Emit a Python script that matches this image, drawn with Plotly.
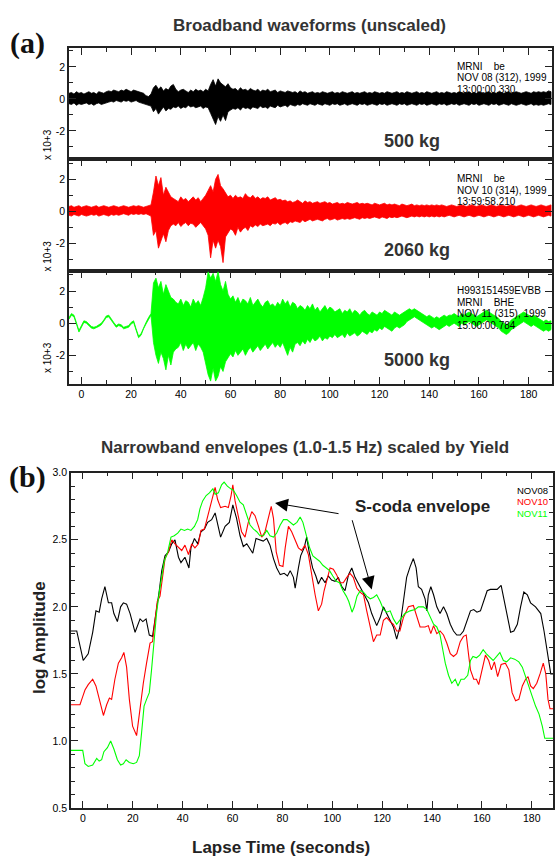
import plotly.graph_objects as go

# ---------------- DATA ----------------
# (a) broadband waveforms: per-second upper / lower extent of each trace (units of 10^3)
T_WAVE = list(range(-5, 190))

NOV08_UP = [0.35,0.40,0.30,0.45,0.35,0.40,0.30,0.40,0.45,0.35,
            0.40,0.30,0.45,0.40,0.35,0.45,0.50,0.45,0.55,0.50,
            0.45,0.55,0.50,0.60,0.50,0.45,0.55,0.50,0.45,0.40,
            0.35,0.20,0.15,0.30,0.70,0.85,0.60,0.75,0.50,0.65,
            0.55,0.80,0.90,0.60,0.45,0.55,0.60,0.50,0.40,0.55,
            0.45,0.60,0.50,0.55,0.45,0.60,0.50,0.90,1.20,0.80,
            1.25,1.00,0.90,0.75,0.95,0.70,0.60,0.65,0.50,0.70,
            0.55,0.60,0.50,0.65,0.55,0.50,0.60,0.45,0.55,0.50,
            0.60,0.45,0.50,0.55,0.40,0.50,0.45,0.40,0.50,0.45,
            0.40,0.45,0.35,0.50,0.40,0.45,0.35,0.40,0.45,0.35,
            0.40,0.35,0.45,0.40,0.35,0.40,0.45,0.35,0.40,0.35,
            0.45,0.40,0.35,0.40,0.45,0.35,0.40,0.35,0.40,0.45,
            0.35,0.40,0.35,0.45,0.40,0.35,0.40,0.35,0.45,0.40,
            0.35,0.40,0.45,0.35,0.40,0.35,0.45,0.40,0.35,0.40,
            0.45,0.35,0.40,0.35,0.45,0.40,0.35,0.40,0.45,0.35,
            0.40,0.35,0.45,0.40,0.35,0.40,0.35,0.45,0.40,0.35,
            0.40,0.45,0.35,0.40,0.35,0.45,0.40,0.35,0.40,0.45,
            0.35,0.40,0.35,0.45,0.40,0.35,0.40,0.45,0.35,0.40,
            0.45,0.40,0.35,0.40,0.45,0.40,0.35,0.45,0.40,0.45,
            0.40,0.45,0.40,0.50,0.45]
NOV08_LO = [-0.30,-0.35,-0.25,-0.40,-0.30,-0.35,-0.30,-0.25,-0.35,-0.30,
            -0.40,-0.30,-0.25,-0.35,-0.30,-0.25,-0.20,-0.15,-0.20,-0.10,
            -0.15,-0.20,-0.10,-0.15,-0.10,-0.20,-0.15,-0.10,-0.20,-0.25,
            -0.30,-0.35,-0.40,-0.45,-0.80,-0.60,-0.95,-0.70,-0.50,-0.75,
            -0.60,-0.65,-0.50,-0.55,-0.45,-0.60,-0.50,-0.55,-0.40,-0.50,
            -0.45,-0.55,-0.50,-0.45,-0.60,-0.50,-0.55,-0.90,-1.20,-1.60,
            -1.10,-1.40,-1.00,-1.35,-0.80,-0.70,-0.60,-0.65,-0.55,-0.70,
            -0.50,-0.60,-0.55,-0.65,-0.50,-0.55,-0.60,-0.45,-0.55,-0.50,
            -0.60,-0.45,-0.50,-0.55,-0.40,-0.50,-0.45,-0.40,-0.50,-0.35,
            -0.40,-0.45,-0.35,-0.40,-0.30,-0.35,-0.40,-0.30,-0.35,-0.40,
            -0.30,-0.35,-0.40,-0.30,-0.35,-0.40,-0.30,-0.35,-0.30,-0.40,
            -0.35,-0.30,-0.40,-0.35,-0.30,-0.35,-0.40,-0.30,-0.35,-0.30,
            -0.40,-0.35,-0.30,-0.35,-0.40,-0.30,-0.35,-0.30,-0.40,-0.35,
            -0.30,-0.35,-0.40,-0.30,-0.35,-0.30,-0.40,-0.35,-0.30,-0.35,
            -0.40,-0.30,-0.35,-0.30,-0.40,-0.35,-0.30,-0.35,-0.40,-0.30,
            -0.35,-0.30,-0.40,-0.35,-0.30,-0.35,-0.30,-0.40,-0.35,-0.30,
            -0.35,-0.40,-0.30,-0.35,-0.30,-0.40,-0.35,-0.30,-0.35,-0.40,
            -0.30,-0.35,-0.30,-0.40,-0.35,-0.30,-0.35,-0.40,-0.30,-0.35,
            -0.40,-0.35,-0.30,-0.35,-0.40,-0.35,-0.30,-0.40,-0.35,-0.40,
            -0.35,-0.40,-0.35,-0.30,-0.35]

NOV10_UP = [0.30,0.35,0.25,0.30,0.35,0.25,0.30,0.35,0.30,0.25,
            0.30,0.35,0.25,0.30,0.35,0.30,0.25,0.30,0.35,0.30,
            0.25,0.30,0.35,0.30,0.25,0.30,0.35,0.30,0.35,0.30,
            0.25,0.30,0.35,0.40,1.20,2.20,1.60,2.10,1.00,1.50,
            1.20,0.90,0.80,0.70,0.60,0.90,0.70,0.80,0.60,0.75,
            0.90,0.70,0.85,0.60,0.80,1.00,1.30,1.60,1.20,2.00,
            2.30,1.60,1.40,1.10,0.90,1.00,0.80,1.00,0.85,0.90,
            0.80,1.10,0.90,0.85,1.00,0.80,0.90,0.75,0.85,0.80,
            0.90,0.70,0.80,0.85,0.70,0.75,0.65,0.70,0.60,0.65,
            0.55,0.60,0.70,0.60,0.50,0.65,0.55,0.60,0.50,0.55,
            0.60,0.50,0.55,0.60,0.50,0.55,0.45,0.50,0.55,0.45,
            0.50,0.45,0.55,0.50,0.45,0.50,0.55,0.45,0.50,0.45,
            0.50,0.45,0.40,0.50,0.45,0.40,0.45,0.50,0.40,0.45,
            0.40,0.45,0.40,0.35,0.45,0.40,0.35,0.40,0.45,0.35,
            0.40,0.35,0.40,0.35,0.40,0.35,0.40,0.35,0.40,0.35,
            0.40,0.35,0.30,0.35,0.40,0.35,0.30,0.35,0.40,0.35,
            0.30,0.35,0.40,0.35,0.30,0.35,0.40,0.35,0.30,0.35,
            0.40,0.35,0.30,0.35,0.40,0.35,0.30,0.35,0.40,0.35,
            0.30,0.35,0.40,0.35,0.30,0.35,0.40,0.35,0.30,0.35,
            0.40,0.35,0.30,0.35,0.40]
NOV10_LO = [-0.25,-0.30,-0.20,-0.25,-0.30,-0.20,-0.25,-0.30,-0.25,-0.20,
            -0.25,-0.20,-0.30,-0.25,-0.20,-0.25,-0.30,-0.20,-0.25,-0.20,
            -0.25,-0.20,-0.15,-0.20,-0.25,-0.15,-0.20,-0.15,-0.20,-0.15,
            -0.20,-0.15,-0.20,-0.30,-1.50,-1.20,-2.30,-1.80,-1.40,-1.90,
            -1.20,-0.90,-0.80,-0.90,-0.70,-0.95,-0.80,-0.70,-0.90,-0.75,
            -0.80,-1.00,-0.85,-0.70,-0.90,-1.10,-1.50,-2.90,-1.80,-2.30,
            -1.80,-2.20,-3.20,-1.60,-1.40,-1.10,-1.20,-1.50,-1.00,-1.30,
            -1.10,-1.00,-1.20,-0.90,-1.00,-0.85,-0.95,-0.80,-0.90,-0.85,
            -0.80,-0.90,-0.75,-0.80,-0.70,-0.85,-0.75,-0.70,-0.80,-0.65,
            -0.70,-0.60,-0.65,-0.70,-0.55,-0.65,-0.60,-0.50,-0.60,-0.55,
            -0.50,-0.55,-0.60,-0.50,-0.45,-0.55,-0.50,-0.45,-0.55,-0.50,
            -0.45,-0.50,-0.45,-0.50,-0.45,-0.40,-0.45,-0.50,-0.40,-0.45,
            -0.40,-0.45,-0.40,-0.35,-0.40,-0.45,-0.35,-0.40,-0.45,-0.35,
            -0.40,-0.35,-0.40,-0.35,-0.30,-0.35,-0.40,-0.35,-0.30,-0.35,
            -0.30,-0.35,-0.30,-0.35,-0.30,-0.35,-0.30,-0.35,-0.30,-0.35,
            -0.30,-0.35,-0.30,-0.25,-0.30,-0.35,-0.30,-0.25,-0.30,-0.35,
            -0.30,-0.25,-0.30,-0.35,-0.30,-0.25,-0.30,-0.35,-0.30,-0.25,
            -0.30,-0.35,-0.30,-0.25,-0.30,-0.35,-0.30,-0.25,-0.30,-0.35,
            -0.30,-0.25,-0.30,-0.35,-0.30,-0.25,-0.30,-0.35,-0.30,-0.25,
            -0.30,-0.35,-0.30,-0.25,-0.30]

NOV11_UP = [0.35,0.60,0.50,0.05,-0.45,-0.15,0.15,0.10,-0.05,-0.20,
            -0.25,-0.20,-0.10,0.00,0.20,0.45,0.50,0.25,0.05,-0.15,
            -0.05,-0.10,-0.25,-0.20,-0.15,0.05,0.15,-0.35,-0.80,-0.65,
            -0.25,0.05,0.35,0.60,
            2.5,2.8,2.2,2.6,1.8,2.4,2.0,1.6,1.5,1.3,
            1.2,1.5,1.1,1.4,1.3,1.0,1.5,1.2,1.4,1.1,
            1.6,2.2,3.2,2.8,3.1,2.6,3.2,2.4,2.0,2.6,
            1.8,1.5,1.7,1.3,1.6,1.2,1.5,1.4,1.2,1.6,
            1.1,1.3,1.5,1.2,1.0,1.3,1.4,1.1,1.2,1.0,
            1.3,1.1,1.5,1.2,1.4,1.0,1.3,1.2,0.9,1.1,
            1.0,0.8,1.1,0.9,1.2,0.8,1.0,0.7,0.9,1.1,
            0.8,1.0,0.9,0.7,0.8,0.9,0.6,0.8,0.7,0.9,
            0.6,0.8,0.7,0.5,0.7,0.8,0.6,0.5,0.7,0.6,
            0.5,0.7,0.6,0.8,0.7,0.6,0.5,0.7,0.6,0.5,
            0.6,0.7,0.8,0.9,0.8,0.9,0.8,0.7,0.6,0.5,
            0.4,0.5,0.4,0.3,0.4,0.3,0.4,0.5,0.4,0.5,
            0.5,0.6,0.5,0.4,0.6,0.5,0.6,0.7,0.6,0.5,
            0.4,0.5,0.6,0.7,0.8,0.7,0.6,0.5,0.4,0.3,
            0.1,0.0,-0.1,0.0,0.2,0.3,0.4,0.5,0.6,0.7,
            0.6,0.5,0.4,0.5,0.4,0.3,0.2,0.1,0.2,0.1,
            0.15]
NOV11_LO = [0.25,0.50,0.40,-0.05,-0.55,-0.25,0.05,0.00,-0.15,-0.30,
            -0.35,-0.30,-0.20,-0.10,0.10,0.35,0.40,0.15,-0.05,-0.25,
            -0.15,-0.20,-0.35,-0.30,-0.25,-0.05,0.05,-0.45,-0.90,-0.75,
            -0.35,-0.05,0.25,0.50,
            -1.2,-2.0,-2.5,-1.8,-2.2,-2.9,-2.0,-2.6,-1.8,-1.6,
            -1.5,-1.2,-1.7,-1.3,-1.6,-1.4,-1.2,-1.7,-1.3,-1.5,
            -1.8,-2.5,-3.2,-3.6,-2.8,-3.6,-3.3,-2.7,-3.0,-2.4,
            -2.2,-1.9,-2.1,-1.7,-2.0,-1.8,-1.6,-2.0,-1.7,-1.5,
            -1.8,-1.6,-1.4,-1.7,-1.5,-1.3,-1.6,-1.4,-1.2,-1.5,
            -1.3,-1.5,-1.2,-1.6,-2.0,-1.5,-1.8,-1.3,-1.2,-1.4,
            -1.1,-1.3,-1.0,-1.2,-0.9,-1.1,-1.0,-0.8,-1.1,-0.9,
            -1.0,-0.8,-0.9,-0.7,-0.9,-0.8,-0.7,-0.9,-0.6,-0.8,
            -0.7,-0.6,-0.8,-0.7,-0.5,-0.6,-0.7,-0.5,-0.6,-0.4,
            -0.5,-0.3,-0.4,-0.2,-0.3,-0.4,-0.5,-0.3,-0.2,-0.3,
            -0.2,-0.1,0.1,0.2,0.3,0.4,0.3,0.2,0.1,0.0,
            -0.1,-0.2,-0.3,-0.2,-0.3,-0.4,-0.3,-0.2,-0.1,-0.2,
            -0.1,0.0,-0.1,-0.2,0.0,-0.1,0.0,0.1,0.0,-0.1,
            -0.2,-0.1,0.0,0.1,0.2,0.1,0.0,-0.1,-0.2,-0.3,
            -0.5,-0.6,-0.7,-0.6,-0.4,-0.3,-0.2,-0.1,0.0,0.1,
            0.0,-0.1,-0.2,-0.1,-0.2,-0.3,-0.4,-0.5,-0.4,-0.5,
            -0.4]

WAVE_LABELS = ["500 kg", "2060 kg", "5000 kg"]
WAVE_HEADERS = [["MRNI\u00a0\u00a0\u00a0\u00a0be", "NOV 08 (312), 1999", "13:00:00.330"],
                ["MRNI\u00a0\u00a0\u00a0\u00a0be", "NOV 10 (314), 1999", "13:59:58.210"],
                ["H993151459EVBB", "MRNI\u00a0\u00a0\u00a0\u00a0BHE", "NOV 11 (315), 1999", "15:00:00.784"]]

# (b) narrowband envelopes, log amplitude vs lapse time (s)
ENV08_T = [-4.8,-2.5,0.1,2.1,3.9,5.2,6.5,7.5,8.8,10.2,
           11.5,12.4,13.8,15.1,16.2,17.5,18.9,20.9,22.9,24.0,
           25.3,26.6,27.9,29.3,30.6,31.6,32.9,34.3,35.6,36.9,
           38.3,39.3,40.9,42.5,43.3,44.7,46.0,47.3,48.7,50.0,
           51.6,53.0,54.0,55.2,57.0,58.7,60.1,61.6,63.0,64.3,
           65.7,66.7,68.1,69.4,71.0,72.3,73.7,75.0,76.4,77.7,
           79.1,80.7,82.0,83.1,84.4,85.1,86.4,87.3,88.7,89.7,
           90.7,92.1,93.4,94.4,95.7,97.1,98.4,99.7,101.1,102.4,
           103.8,105.1,106.5,107.8,109.1,110.5,111.8,113.2,114.5,115.8,
           117.8,119.2,120.5,121.8,123.2,124.5,125.8,127.1,128.5,129.8,
           131.2,132.5,133.6,134.5,135.8,137.2,137.9,138.5,139.5,140.6,
           141.9,143.2,144.6,145.9,147.3,148.6,149.9,151.3,152.6,154.0,
           155.4,156.7,158.0,159.4,160.7,162.1,163.4,164.8,166.1,167.7,
           168.8,170.1,171.5,172.8,174.2,175.5,176.8,178.2,179.5,181.5,
           183.6,184.9,186.2,187.6,188.5]
ENV08_V = [1.82,1.82,1.60,1.65,1.81,1.97,1.96,2.06,2.15,2.03,
           2.03,1.95,1.89,2.00,2.03,2.02,1.95,1.81,1.91,1.89,
           1.91,1.79,1.78,1.95,2.12,2.27,2.38,2.41,2.47,2.50,
           2.37,2.33,2.37,2.29,2.44,2.51,2.47,2.56,2.58,2.63,
           2.65,2.70,2.62,2.52,2.60,2.63,2.76,2.66,2.53,2.45,
           2.47,2.44,2.40,2.51,2.50,2.49,2.51,2.46,2.36,2.29,
           2.24,2.25,2.23,2.27,2.22,2.14,2.29,2.38,2.44,2.52,
           2.41,2.29,2.23,2.17,2.22,2.18,2.23,2.20,2.19,2.22,
           2.15,2.12,2.24,2.29,2.22,2.17,2.12,2.08,2.03,1.95,
           1.86,1.92,2.00,1.95,1.90,1.85,1.76,1.85,2.04,2.22,
           2.30,2.36,2.29,2.15,2.13,2.06,1.97,2.09,2.15,2.09,
           2.00,1.95,2.00,1.95,1.87,1.82,1.79,1.79,1.82,1.90,
           1.97,1.98,1.96,1.97,2.04,2.12,2.13,2.13,2.13,2.16,
           2.06,1.92,1.81,1.82,1.87,2.00,2.11,2.09,2.03,2.00,
           1.95,1.82,1.65,1.50,1.50]

ENV10_T = [-4.8,-1.2,-0.1,0.8,2.1,3.9,5.2,6.5,8.2,9.5,
           10.6,11.5,12.8,14.2,15.5,16.4,17.5,18.6,19.9,21.5,
           22.9,24.2,25.5,26.9,27.9,28.9,29.8,30.9,31.9,32.9,
           34.3,35.6,36.9,38.3,39.6,40.9,42.3,43.6,44.9,46.3,
           47.3,48.7,50.0,51.6,53.0,54.0,55.2,57.0,58.3,59.4,
           60.1,61.0,62.3,63.6,65.0,66.3,67.7,69.0,70.4,71.7,
           73.0,74.4,75.5,76.4,77.5,78.8,80.2,81.1,82.4,83.7,
           85.1,86.4,87.7,89.0,90.4,91.7,93.1,94.4,95.7,96.7,
           98.0,99.1,100.4,101.7,103.1,104.4,105.8,107.1,108.4,109.8,
           111.1,112.5,113.8,115.2,116.5,117.8,119.2,120.5,121.8,123.2,
           124.5,125.8,127.1,128.5,130.5,132.5,133.9,135.2,137.2,138.5,
           139.5,140.6,141.9,143.2,144.6,145.9,147.3,148.6,149.9,151.3,
           152.6,153.7,154.6,155.4,156.7,157.8,158.7,160.0,161.4,162.7,
           163.8,165.0,166.3,167.7,169.4,170.8,172.1,173.5,174.8,176.2,
           177.5,178.5,179.5,180.6,182.0,183.3,184.6,185.6,186.5,187.3,
           188.5]
ENV10_V = [1.27,1.27,1.33,1.38,1.42,1.46,1.41,1.31,1.19,1.27,
           1.32,1.31,1.46,1.58,1.62,1.66,1.55,1.31,1.11,1.04,
           1.26,1.43,1.58,1.73,1.74,1.90,2.04,2.08,2.23,2.36,
           2.41,2.50,2.47,2.44,2.42,2.46,2.39,2.47,2.44,2.47,
           2.57,2.58,2.68,2.78,2.89,2.80,2.74,2.75,2.74,2.83,
           2.91,2.79,2.66,2.56,2.52,2.63,2.71,2.68,2.60,2.52,
           2.56,2.66,2.75,2.66,2.41,2.31,2.30,2.44,2.60,2.56,
           2.49,2.44,2.42,2.46,2.39,2.24,2.09,1.97,2.02,2.12,
           2.22,2.29,2.28,2.24,2.18,2.18,2.22,2.25,2.22,2.14,
           2.11,2.09,1.97,1.85,1.74,1.79,1.79,1.90,1.92,1.89,
           1.87,1.82,1.82,1.92,2.00,2.01,1.93,1.85,1.85,1.86,
           1.80,1.86,1.80,1.82,1.79,1.73,1.65,1.63,1.65,1.74,
           1.78,1.79,1.65,1.53,1.46,1.46,1.42,1.52,1.64,1.60,
           1.53,1.59,1.48,1.57,1.58,1.53,1.36,1.30,1.31,1.41,
           1.46,1.48,1.41,1.39,1.43,1.50,1.58,1.50,1.31,1.24,
           1.24]

ENV11_T = [-4.8,-0.1,0.8,2.1,3.9,5.5,6.5,7.5,8.4,9.8,
           11.1,12.4,13.8,15.1,16.2,17.3,18.6,20.2,21.5,22.6,
           23.5,24.5,25.5,26.6,27.5,28.5,29.5,30.6,31.6,32.6,
           34.0,35.3,36.6,38.0,39.3,40.7,42.0,43.3,44.7,46.0,
           46.9,48.0,49.4,50.7,52.1,53.0,54.3,55.6,56.6,57.9,
           59.3,60.3,61.6,63.0,64.3,65.7,67.0,68.4,69.7,71.0,
           72.4,73.7,75.0,76.4,77.7,79.1,80.4,81.8,83.1,84.4,
           85.8,87.1,88.2,89.5,90.9,92.2,93.6,94.9,96.2,97.6,
           98.9,100.2,101.6,102.9,104.3,105.6,106.6,107.9,108.8,109.9,
           111.2,112.5,113.8,115.2,116.5,117.8,119.2,120.5,121.8,123.2,
           124.5,125.8,127.1,129.1,131.2,133.2,134.5,136.5,137.9,139.2,
           140.6,141.9,143.2,144.3,145.3,146.6,147.9,149.3,150.4,151.6,
           152.9,154.3,155.4,156.4,157.8,159.1,160.5,161.8,163.2,164.5,
           165.9,167.2,168.6,169.9,171.5,173.1,174.8,176.2,177.5,178.9,
           180.2,181.5,182.9,184.2,185.2,188.5]
ENV11_V = [0.93,0.93,0.83,0.81,0.82,0.87,0.85,0.86,0.92,0.95,
           1.00,0.94,0.86,0.82,0.83,0.86,0.84,0.83,0.84,0.89,
           1.06,1.26,1.31,1.36,1.53,1.75,1.95,2.11,2.22,2.34,
           2.41,2.52,2.53,2.55,2.58,2.57,2.58,2.57,2.60,2.65,
           2.73,2.79,2.83,2.85,2.88,2.84,2.85,2.91,2.93,2.90,
           2.88,2.87,2.83,2.78,2.76,2.68,2.61,2.58,2.56,2.53,
           2.53,2.57,2.53,2.52,2.55,2.61,2.65,2.65,2.63,2.61,
           2.63,2.67,2.63,2.53,2.44,2.38,2.36,2.34,2.31,2.29,
           2.27,2.23,2.19,2.18,2.12,2.08,2.04,1.96,2.00,2.08,
           2.12,2.11,2.08,2.06,2.07,2.09,2.04,1.98,1.96,1.97,
           1.91,1.87,1.90,1.95,1.97,1.98,2.00,2.00,1.98,1.92,
           1.87,1.85,1.79,1.68,1.58,1.49,1.43,1.46,1.41,1.46,
           1.46,1.49,1.60,1.63,1.62,1.64,1.68,1.65,1.62,1.60,
           1.63,1.66,1.60,1.59,1.62,1.61,1.59,1.55,1.48,1.41,
           1.33,1.26,1.20,1.11,1.02,1.02]

ENV_NAMES = ["NOV08", "NOV10", "NOV11"]
X_TICKS = [0, 20, 40, 60, 80, 100, 120, 140, 160, 180]
X_MINOR = [10, 30, 50, 70, 90, 110, 130, 150, 170]
WAVE_YTICKS = [-2, 0, 2]
WAVE_YTEXT = ["-2", "0", "2"]
WAVE_YMINOR = [-3, -1, 1, 3]
ENV_YTICKS = [0.5, 1.0, 1.5, 2.0, 2.5, 3.0]
ENV_YTEXT = ["0.5", "1.0", "1.5", "2.0", "2.5", "3.0"]

# ---------------- STYLE ----------------
W, H = 555, 864
BLACK, RED, GREEN = "#000000", "#ff0000", "#00ff00"
SMALL = "Liberation Sans, Arial, Helvetica, sans-serif"
SANS = "Liberation Sans, Arial, Helvetica, sans-serif"
SERIF = "Liberation Serif, Times New Roman, serif"
AXC = "#222222"


def px(x):
    return x / W


def py(y):
    return 1 - y / H


fig = go.Figure()

# waveforms: the area swept by each record between its upper and lower extent
wave_sets = [(NOV08_UP, NOV08_LO, BLACK), (NOV10_UP, NOV10_LO, RED), (NOV11_UP, NOV11_LO, GREEN)]
for i, (up, lo, col) in enumerate(wave_sets):
    n = "" if i == 0 else str(i + 1)
    fig.add_trace(go.Scatter(
        x=T_WAVE + T_WAVE[::-1], y=up + lo[::-1], mode="lines",
        fill="toself", fillcolor=col, line=dict(color=col, width=0.8),
        xaxis="x" + n, yaxis="y" + n, hoverinfo="skip", showlegend=False))

for (tt, vv, col, nm) in [(ENV08_T, ENV08_V, BLACK, ENV_NAMES[0]),
                          (ENV10_T, ENV10_V, RED, ENV_NAMES[1]),
                          (ENV11_T, ENV11_V, GREEN, ENV_NAMES[2])]:
    fig.add_trace(go.Scatter(x=tt, y=vv, mode="lines", name=nm,
                             line=dict(color=col, width=1.1),
                             xaxis="x4", yaxis="y4", showlegend=False))

tickfont = dict(family=SMALL, size=10.5, color="#000")

panel_rows = [(43, 155), (155, 269), (269, 383)]
panel_yr = [[-3.74, 3.15], [-3.74, 3.27], [-3.76, 3.23]]

layout = dict(width=W, height=H, margin=dict(l=0, r=0, t=0, b=0),
              paper_bgcolor="white", plot_bgcolor="white", showlegend=False)

for i in range(3):
    n = "" if i == 0 else str(i + 1)
    top, bot = panel_rows[i]
    xa = dict(domain=[px(69), px(552)], range=[-5, 189.4], anchor="y" + n,
              showline=True, linecolor=AXC, linewidth=1.5, showgrid=False, zeroline=False,
              tickmode="array", tickvals=X_TICKS, ticktext=[str(v) for v in X_TICKS],
              ticks="inside", ticklen=7, tickwidth=1, tickcolor=AXC,
              minor=dict(tickmode="array", tickvals=X_MINOR, ticks="inside", ticklen=4, tickcolor=AXC),
              tickfont=tickfont, fixedrange=True)
    if i < 2:
        xa.update(side="top", mirror=True, showticklabels=False)
    else:
        xa.update(side="bottom", mirror="ticks", showticklabels=True)
    ya = dict(domain=[py(bot), py(top)], range=panel_yr[i], anchor="x" + n,
              showline=True, linecolor=AXC, linewidth=1.5, mirror="ticks", showgrid=False, zeroline=False,
              tickmode="array", tickvals=WAVE_YTICKS, ticktext=WAVE_YTEXT,
              ticks="inside", ticklen=7, tickwidth=1, tickcolor=AXC,
              minor=dict(tickmode="array", tickvals=WAVE_YMINOR, ticks="inside", ticklen=4, tickcolor=AXC),
              tickfont=tickfont, fixedrange=True)
    layout["xaxis" + n] = xa
    layout["yaxis" + n] = ya

layout["xaxis4"] = dict(domain=[px(71), px(553)], range=[-4.8, 188.5], anchor="y4",
                        showline=True, linecolor=AXC, linewidth=1.5, mirror="ticks",
                        showgrid=False, zeroline=False,
                        tickmode="array", tickvals=X_TICKS, ticktext=[str(v) for v in X_TICKS],
                        ticks="inside", ticklen=7, tickwidth=1, tickcolor=AXC,
                        minor=dict(tickmode="array", tickvals=X_MINOR, ticks="inside", ticklen=4, tickcolor=AXC),
                        tickfont=tickfont, fixedrange=True)
layout["yaxis4"] = dict(domain=[py(813.3), py(473.3)], range=[0.5, 3.0], anchor="x4",
                        showline=True, linecolor=AXC, linewidth=1.5, mirror="ticks",
                        showgrid=False, zeroline=False,
                        tickmode="array", tickvals=ENV_YTICKS, ticktext=ENV_YTEXT,
                        ticks="inside", ticklen=7, tickwidth=1, tickcolor=AXC,
                        minor=dict(dtick=0.1, tick0=0.5, ticks="inside", ticklen=4, tickcolor=AXC),
                        tickfont=tickfont, fixedrange=True)

fig.update_layout(**layout)

ann = []


def text(x, y, s, size, family=SANS, color="#333", xanchor="center", angle=0):
    ann.append(dict(x=px(x), y=py(y), xref="paper", yref="paper", text=s, showarrow=False,
                    xanchor=xanchor, yanchor="middle", textangle=angle,
                    font=dict(family=family, size=size, color=color)))


text(309, 20, "<b>Broadband waveforms (unscaled)</b>", 17)
text(305, 448, "<b>Narrowband envelopes (1.0-1.5 Hz) scaled by Yield</b>", 17)
text(27, 38, "<b>(a)</b>", 30, family=SERIF, color="#111")
text(27, 478, "<b>(b)</b>", 30, family=SERIF, color="#111")

label_pos = [(412, 137), (417, 247), (417, 359)]
for (x, y), s in zip(label_pos, WAVE_LABELS):
    text(x, y, "<b>" + s + "</b>", 18)

header_y = [[61, 72.5, 84.7], [175, 186.7, 198.3], [289, 300.5, 311.5, 324]]
for ys, lines in zip(header_y, WAVE_HEADERS):
    for y, s in zip(ys, lines):
        text(455, y, s, 10, family=SMALL, color="#000", xanchor="left")

for y in [141, 254, 357]:
    text(47, y, "x 10+3", 10, family=SMALL, color="#000", angle=-90)

text(39, 641, "<b>log Amplitude</b>", 17, color="#222", angle=-90)
text(281, 853, "<b>Lapse Time (seconds)</b>", 17, color="#222")

for y, s, c in zip([491, 502.5, 514.5], ENV_NAMES, [BLACK, RED, GREEN]):
    text(515, y, s, 9.5, family=SMALL, color=c, xanchor="left")

text(422, 508, "<b>S-coda envelope</b>", 17, color="#222")

# arrows (data coordinates of lower panel)
for (hx, hy, tx, ty) in [(77.0, 2.774, 103.1, 2.693), (115.8, 2.13, 107.8, 2.657)]:
    ann.append(dict(x=hx, y=hy, xref="x4", yref="y4", ax=tx, ay=ty, axref="x4", ayref="y4",
                    text="", showarrow=True, arrowhead=2, arrowsize=2.6, arrowwidth=1,
                    arrowcolor="#000"))

fig.update_layout(annotations=ann)
fig.write_html("out.html")
